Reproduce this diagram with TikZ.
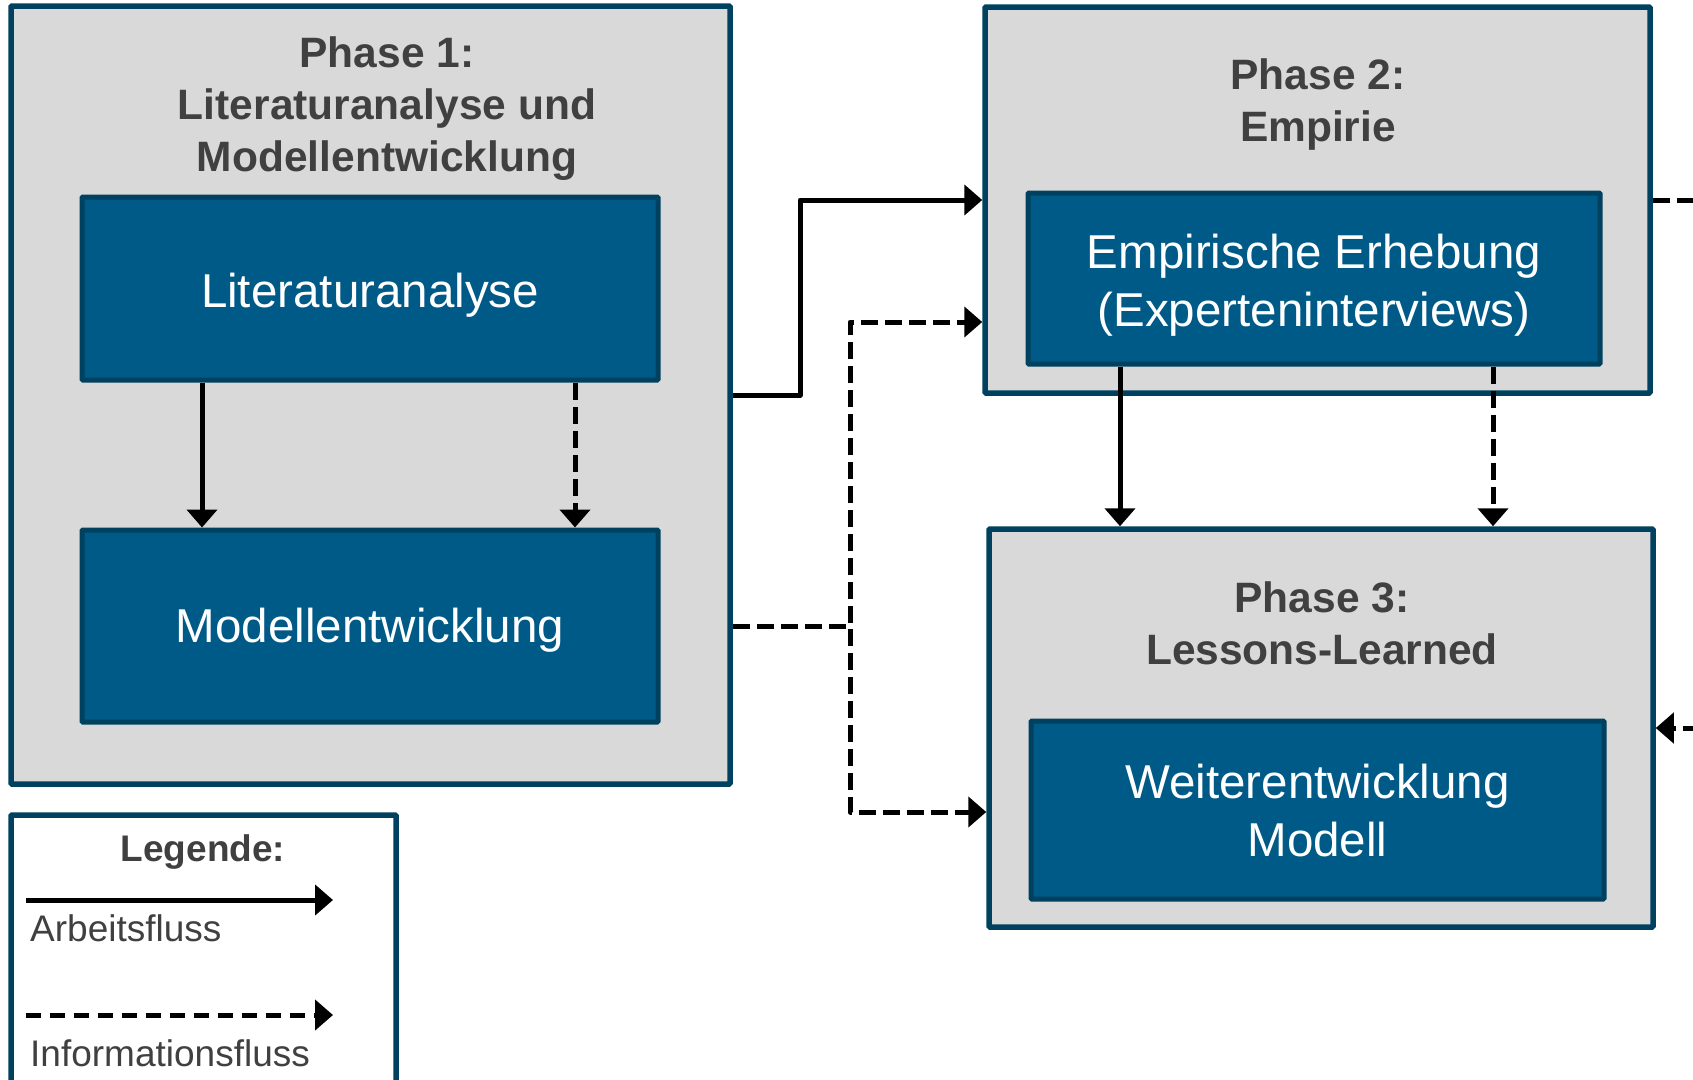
\documentclass[tikz,border=0pt]{standalone}
\usepackage{fontspec}
\setmainfont{Liberation Sans}
\usetikzlibrary{arrows.meta}
\definecolor{boxgray}{HTML}{D9D9D9}
\definecolor{frameblue}{HTML}{00415F}
\definecolor{fillblue}{HTML}{005A87}
\definecolor{txtgray}{HTML}{404040}
\begin{document}
\begin{tikzpicture}[x=1pt,y=-1pt,
  phase/.style={draw=frameblue, fill=boxgray, line width=5.5pt, inner sep=0pt, rounded corners=1pt},
  inbox/.style={draw=frameblue, fill=fillblue, line width=5pt, inner sep=0pt, rounded corners=1pt},
  intext/.style={text=white, align=center, inner sep=0pt, font=\fontsize{47.5}{58}\selectfont},
  legbox/.style={draw=frameblue, fill=white, line width=5.5pt, inner sep=0pt, rounded corners=1pt},
  ptitle/.style={text=txtgray, align=center, inner sep=0pt, font=\fontsize{42.5}{52}\selectfont\bfseries},
  legtext/.style={text=txtgray, inner sep=0pt, font=\fontsize{37}{44}\selectfont},
  work/.style={draw=black, line width=5pt, line join=round, -{Triangle[length=18pt,width=30pt]}},
  info/.style={work, dash pattern=on 17pt off 7pt},
  infoplain/.style={draw=black, line width=5pt, line join=round, dash pattern=on 17pt off 7pt},
]
\useasboundingbox (0,0) rectangle (1693,1079);

% Phase boxes
\node[phase, minimum width=719pt, minimum height=778pt] (p1) at (370.5,395) {};
\node[phase, minimum width=665pt, minimum height=386pt] (p2) at (1317.5,200) {};
\node[phase, minimum width=664pt, minimum height=398pt] (p3) at (1321,728) {};
\node[legbox, minimum width=385pt, minimum height=275pt] (leg) at (203.5,952.5) {};

% Titles
\node[ptitle] (t1) at (387,109) {Phase 1:\\Literaturanalyse und\\Modellentwicklung};
\node[ptitle] (t2) at (1318,104.5) {Phase 2:\\Empirie};
\node[ptitle] (t3) at (1322,623) {Phase 3:\\Lessons-Learned};

% Inner boxes
\node[inbox, minimum width=576pt, minimum height=183pt] (lit) at (370,288.5) {};
\node[inbox, minimum width=576pt, minimum height=192pt] (mod) at (370,626) {};
\node[inbox, minimum width=572pt, minimum height=171pt] (emp) at (1314,278.5) {};
\node[inbox, minimum width=573pt, minimum height=178pt] (wm) at (1317.5,810) {};
\node[intext] (litT) at (370,295.5) {Literaturanalyse};
\node[intext] (modT) at (370,630) {Modellentwicklung};
\node[intext] (empT) at (1314,285) {Empirische Erhebung\\(Experteninterviews)};
\node[intext] (wmT) at (1317.5,811) {Weiterentwicklung\\Modell};

% Arrows inside phase 1
\coordinate (a1) at ([xshift=-168pt]lit.south);
\coordinate (a2) at ([xshift=205pt]lit.south);
\draw[work] (a1) -- (a1 |- mod.north);
\draw[info] (a2) -- (a2 |- mod.north);

% Arrows from Empirie to phase 3
\coordinate (b1) at ([xshift=-194pt]emp.south);
\coordinate (b2) at ([xshift=179pt]emp.south);
\draw[work] (b1) -- (b1 |- p3.north);
\draw[info] (b2) -- (b2 |- p3.north);

% Phase 1 -> Phase 2 (work)
\coordinate (c1) at (800,395);
\draw[work] (p1.east) -- (c1) |- (p2.west);

% Modell -> Phase 2 / Phase 3 (info)
\coordinate (j1) at (850,322);
\coordinate (j2) at (850,812);
\draw[info] (p1.east |- mod) -| (j1) -- (p2.west |- j1);
\draw[info] (p1.east |- mod) -| (j2) -- (p3.west |- j2);

% Right edge dashed connectors
\coordinate (r1) at (1700,200);
\coordinate (r2) at (1700,728);
\draw[infoplain] (p2.east) -- (r1);
\draw[info] (r2) -- (p3.east);

% Legend
\node[legtext, font=\fontsize{37}{44}\selectfont\bfseries] (lt) at (203,852) {Legende:};
\coordinate (l1s) at (26,900);
\coordinate (l1e) at (333,900);
\coordinate (l2s) at (26,1015);
\coordinate (l2e) at (333,1015);
\draw[work] (l1s) -- (l1e);
\draw[work, dash pattern=on 15pt off 9pt] (l2s) -- (l2e);
\node[legtext, anchor=west] (la) at (30,928) {Arbeitsfluss};
\node[legtext, anchor=west] (li) at (30,1053) {Informationsfluss};
\end{tikzpicture}
\end{document}
